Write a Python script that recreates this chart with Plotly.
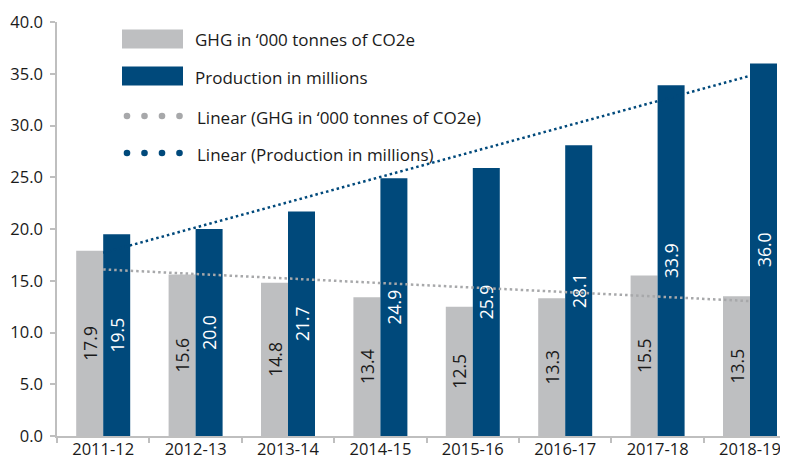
import numpy as np
import plotly.graph_objects as go

# ---- data ----
years = ["2011-12", "2012-13", "2013-14", "2014-15", "2015-16", "2016-17", "2017-18", "2018-19"]
ghg = [17.9, 15.6, 14.8, 13.4, 12.5, 13.3, 15.5, 13.5]
production = [19.5, 20.0, 21.7, 24.9, 25.9, 28.1, 33.9, 36.0]
y_ticks = [0, 5, 10, 15, 20, 25, 30, 35, 40]

series_names = ["GHG in \u2018000 tonnes of CO2e", "Production in millions",
                "Linear (GHG in \u2018000 tonnes of CO2e)", "Linear (Production in millions)"]

# ---- styles ----
GRAY = "#bebfc1"
NAVY = "#00497b"
GRAY_TREND = "#a7a8aa"
AXIS = "#bfbfbf"
TXT = "#1a1a1a"
FONT = "Open Sans"

OFF = 8                      # page body margin
W, H = 788 - OFF, 459 - OFF  # figure size
PLOT_L, PLOT_R, PLOT_T, PLOT_B = 57, 788, 22, 436   # plot area in page pixels
L = PLOT_L - OFF
T = PLOT_T - OFF
R = OFF + W - PLOT_R
B = OFF + H - PLOT_B
PW = PLOT_R - PLOT_L
PH = PLOT_B - PLOT_T
cat_px = 92.4  # pixel width of one category

def px(X):
    return (X - PLOT_L) / PW

def py(Y):
    return (PLOT_B - Y) / PH

# linear trends (least squares, as in the spreadsheet's "Linear" trendline)
idx = np.arange(len(years))
g_fit = np.polyval(np.polyfit(idx, ghg, 1), idx)
p_fit = np.polyval(np.polyfit(idx, production, 1), idx)

fig = go.Figure()
fig.add_trace(go.Bar(
    x=years, y=ghg, name=series_names[0], marker=dict(color=GRAY, line=dict(width=0)),
    text=[f"{v:.1f}" for v in ghg], textposition="inside", insidetextanchor="middle",
    textangle=-90, constraintext="none",
    insidetextfont=dict(family=FONT, size=17.5, color=TXT), showlegend=False,
))
fig.add_trace(go.Bar(
    x=years, y=production, name=series_names[1], marker=dict(color=NAVY, line=dict(width=0)),
    text=[f"{v:.1f}" for v in production], textposition="inside", insidetextanchor="middle",
    textangle=-90, constraintext="none",
    insidetextfont=dict(family=FONT, size=17.5, color="#ffffff"), showlegend=False,
))
fig.add_trace(go.Scatter(
    x=years, y=g_fit, mode="lines", name=series_names[2],
    line=dict(color=GRAY_TREND, width=2.5, dash="2.5px,3px"), showlegend=False,
))
fig.add_trace(go.Scatter(
    x=years, y=p_fit, mode="lines", name=series_names[3],
    line=dict(color=NAVY, width=2.5, dash="2.5px,3px"), showlegend=False,
))

# ---- custom legend (wide swatches as in the reference) ----
shapes = []
annotations = []
rows_y = [39, 76, 116, 153]
for ry, col in zip(rows_y[:2], [GRAY, NAVY]):
    shapes.append(dict(type="rect", xref="paper", yref="paper",
                       x0=px(122), x1=px(183), y0=py(ry + 9.5), y1=py(ry - 9.5),
                       fillcolor=col, line=dict(width=0), layer="above"))
for ry, col in zip(rows_y[2:], [GRAY_TREND, NAVY]):
    for dx in [127, 144.5, 162, 179.5]:
        shapes.append(dict(type="circle", xref="paper", yref="paper",
                           xsizemode="pixel", ysizemode="pixel",
                           xanchor=px(dx), yanchor=py(ry),
                           x0=-3.3, x1=3.3, y0=-3.3, y1=3.3,
                           fillcolor=col, line=dict(width=0), layer="above"))
for i, (ry, name) in enumerate(zip(rows_y, series_names)):
    annotations.append(dict(xref="paper", yref="paper", x=px(193 if i < 2 else 195), y=py(ry + 1),
                            text=name, showarrow=False, xanchor="left", yanchor="middle",
                            font=dict(family=FONT, size=17, color=TXT)))

fig.update_layout(
    width=W, height=H,
    margin=dict(l=L, r=R, t=T, b=B, pad=0, autoexpand=False),
    paper_bgcolor="white", plot_bgcolor="white",
    barmode="group", bargap=1 - 54 / cat_px, bargroupgap=0,
    font=dict(family=FONT, size=16, color=TXT),
    shapes=shapes, annotations=annotations,
    xaxis=dict(
        type="category", range=[-0.5, -0.5 + PW / cat_px],
        showline=True, linecolor=AXIS, linewidth=1.5,
        ticks="outside", tickson="boundaries", ticklen=5, tickcolor=AXIS, tickwidth=1.5,
        ticklabelstandoff=-3,
        showgrid=False, zeroline=False, automargin=False,
        tickfont=dict(family=FONT, size=16.5, color=TXT),
    ),
    yaxis=dict(
        range=[0, 40], tickvals=y_ticks, tickformat=".1f",
        showline=True, linecolor=AXIS, linewidth=1.5,
        ticks="outside", ticklen=5, tickcolor=AXIS, tickwidth=1.5,
        ticklabelstandoff=4,
        showgrid=False, zeroline=False, automargin=False,
        tickfont=dict(family=FONT, size=16.5, color=TXT),
    ),
)

fig.write_html("out.html")
